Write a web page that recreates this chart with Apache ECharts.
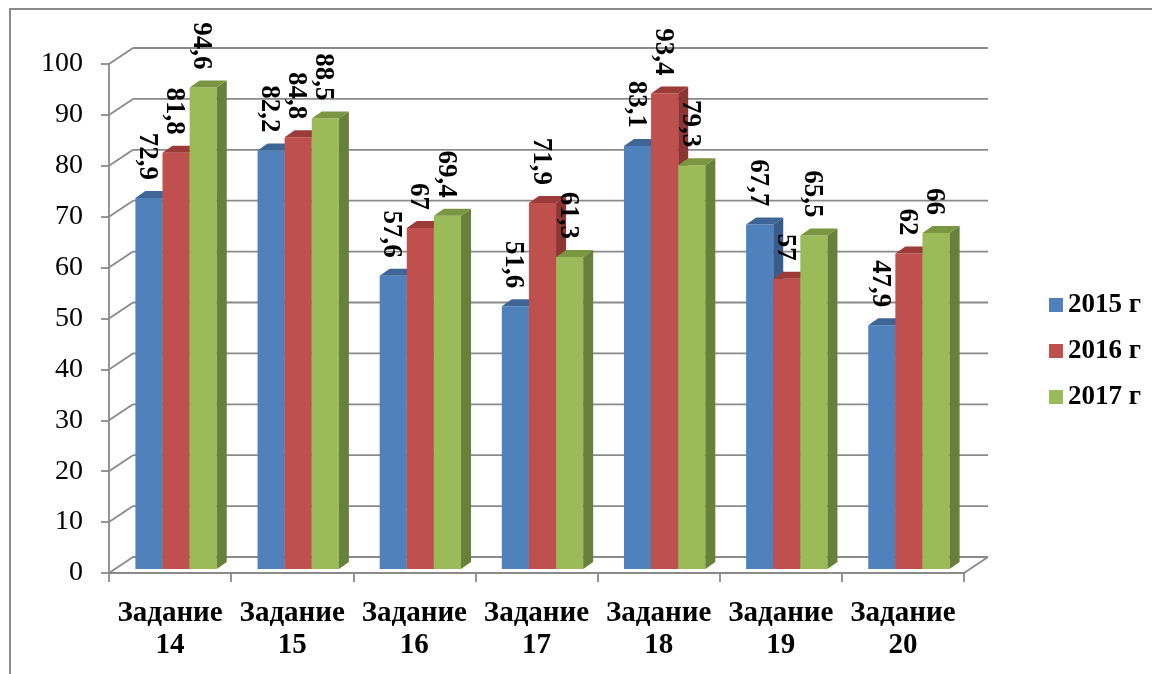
<!DOCTYPE html>
<html>
<head>
<meta charset="utf-8">
<script src="https://cdn.jsdelivr.net/npm/echarts@6/dist/echarts.min.js"></script>
<style>
  html, body { margin: 0; padding: 0; background: #fff; }
  #chart { width: 1152px; height: 674px; }
</style>
</head>
<body>
<div id="chart"></div>
<script>
// Results per task, by year
const categories = ['Задание\n14', 'Задание\n15', 'Задание\n16', 'Задание\n17', 'Задание\n18', 'Задание\n19', 'Задание\n20'];
const years = ['2015 г', '2016 г', '2017 г'];
const values2015 = [72.9, 82.2, 57.6, 51.6, 83.1, 67.7, 47.9];
const values2016 = [81.8, 84.8, 67, 71.9, 93.4, 57, 62];
const values2017 = [94.6, 88.5, 69.4, 61.3, 79.3, 65.5, 66];
const yTicks = [0, 10, 20, 30, 40, 50, 60, 70, 80, 90, 100];

const FONT = '"Liberation Serif", "Times New Roman", serif';
const LINE = '#8a8a8a';

// Pseudo-3D geometry: depth of the whole wall and of each bar
const WALL_DX = 24, WALL_DY = 16;
const FRONT_DX = 6, FRONT_DY = 4;      // bar front face sits slightly inside the box
const BAR_DX = 10, BAR_DY = 7;         // bar thickness
const BAR_RATIO = 0.222;               // bar width as a share of the category band

const palettes = [
  { front: '#4F81BD', top: '#3D6697', side: '#385D8A' },
  { front: '#C0504D', top: '#9D3B39', side: '#8C3533' },
  { front: '#9BBB59', top: '#7A9640', side: '#67803A' }
];

function fmt(v) { return String(v).replace('.', ','); }

function barRenderer(idx) {
  const pal = palettes[idx];
  return function (params, api) {
    const cat = api.value(0), val = api.value(1);
    const top = api.coord([cat, val]);
    const base = api.coord([cat, 0]);
    const band = api.size([1, 0])[0];
    const w = band * BAR_RATIO;
    const x0 = top[0] - 1.5 * w + idx * w + FRONT_DX;
    const yTop = top[1] - FRONT_DY;
    const yBot = base[1] - FRONT_DY;
    return {
      type: 'group',
      children: [
        { type: 'rect', shape: { x: x0, y: yTop, width: w, height: yBot - yTop }, style: { fill: pal.front } },
        { type: 'polygon', shape: { points: [[x0 + w, yTop], [x0 + w + BAR_DX, yTop - BAR_DY], [x0 + w + BAR_DX, yBot - BAR_DY], [x0 + w, yBot]] }, style: { fill: pal.side } },
        { type: 'polygon', shape: { points: [[x0, yTop], [x0 + BAR_DX, yTop - BAR_DY], [x0 + w + BAR_DX, yTop - BAR_DY], [x0 + w, yTop]] }, style: { fill: pal.top } },
        {
          type: 'text', x: x0 + w / 2 - 2, y: yTop - 18, rotation: -Math.PI / 2,
          style: { text: fmt(val), align: 'right', verticalAlign: 'middle', font: 'bold 27px ' + FONT, fill: '#000' }
        }
      ]
    };
  };
}

// Side wall, back wall and floor edges, one set of lines per tick value
function wallRenderer(params, api) {
  const v = api.value(1);
  const y = api.coord([0, v])[1];
  const left = params.coordSys.x;
  const right = left + params.coordSys.width;
  const style = { stroke: LINE, lineWidth: 1.8 };
  const children = [
    { type: 'line', shape: { x1: left, y1: y, x2: left + WALL_DX, y2: y - WALL_DY }, style },
    { type: 'line', shape: { x1: left + WALL_DX, y1: y - WALL_DY, x2: right + WALL_DX, y2: y - WALL_DY }, style }
  ];
  if (v === 0) {
    children.push({ type: 'line', shape: { x1: right, y1: y, x2: right + WALL_DX, y2: y - WALL_DY }, style });
  }
  return { type: 'group', children };
}

const seriesValues = [values2015, values2016, values2017];

const chart = echarts.init(document.getElementById('chart'), null, { renderer: 'canvas' });
chart.setOption({
  animation: false,
  backgroundColor: '#fff',
  graphic: [{
    type: 'rect', shape: { x: 10, y: 9, width: 1300, height: 800 },
    style: { fill: 'none', stroke: LINE, lineWidth: 2 }, silent: true, z: -10
  }],
  grid: { left: 109, right: 188, top: 64, bottom: 101, containLabel: false },
  legend: {
    orient: 'vertical', left: 1044, top: 286,
    itemWidth: 14, itemHeight: 14, itemGap: 18, icon: 'rect',
    data: years,
    textStyle: { fontFamily: FONT, fontWeight: 'bold', fontSize: 27, lineHeight: 28, color: '#000' }
  },
  xAxis: {
    type: 'category', data: categories,
    axisLine: { lineStyle: { color: LINE, width: 1.8 } },
    axisTick: { show: true, length: 9, lineStyle: { color: LINE, width: 1.8 } },
    axisLabel: { interval: 0, fontFamily: FONT, fontWeight: 'bold', fontSize: 29, lineHeight: 32, color: '#000', margin: 25 },
    splitLine: { show: false }
  },
  yAxis: {
    type: 'value', min: 0, max: 100, interval: 10,
    axisLine: { show: true, lineStyle: { color: LINE, width: 1.8 } },
    axisTick: { show: true, length: 8, lineStyle: { color: LINE, width: 1.8 } },
    axisLabel: { fontFamily: FONT, fontSize: 28, color: '#000', margin: 26 },
    splitLine: { show: false }
  },
  series: [
    {
      type: 'custom', name: 'walls', silent: true, z: 1,
      renderItem: wallRenderer,
      encode: { x: 0, y: 1 },
      data: yTicks.map(v => [0, v])
    }
  ].concat(seriesValues.map((vals, i) => ({
    type: 'custom', name: years[i], z: 2,
    itemStyle: { color: palettes[i].front },
    renderItem: barRenderer(i),
    encode: { x: 0, y: 1 },
    data: vals.map((v, j) => [j, v])
  })))
});
</script>
</body>
</html>
